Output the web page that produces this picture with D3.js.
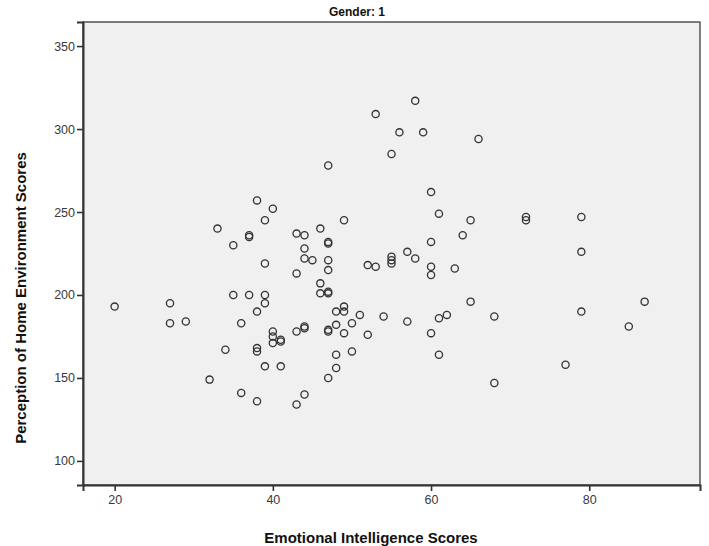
<!DOCTYPE html>
<html>
<head>
<meta charset="utf-8">
<script src="https://cdn.jsdelivr.net/npm/d3@7"></script>
<style>
  body { margin: 0; background: #fff; }
  svg { display: block; font-family: Arial, "Liberation Sans", sans-serif; }
</style>
</head>
<body>
<div id="chart"></div>
<script>
// Chart text
const chartTitle = "Gender: 1";
const xTitle = "Emotional Intelligence Scores";
const yTitle = "Perception of Home Environment Scores";

// Tick labels
const xTicks = [20, 40, 60, 80];
const yTicks = [100, 150, 200, 250, 300, 350];

// Emotional Intelligence score for each case
const eiScores = [
    20, 27, 27, 29, 32, 33, 34, 35, 35, 36, 36, 37, 37, 37,
    38, 38, 38, 38, 38, 39, 39, 39, 39, 39, 40, 40, 40, 40,
    41, 41, 41, 43, 43, 43, 43, 44, 44, 44, 44, 44, 44, 45,
    46, 46, 46, 47, 47, 47, 47, 47, 47, 47, 47, 47, 47,
    48, 48, 48, 48, 49, 49, 49, 49, 50, 50, 51, 52, 52,
    53, 53, 54, 55, 55, 55, 55, 56, 57, 57, 58, 58, 59,
    60, 60, 60, 60, 60, 61, 61, 61, 62, 63, 64, 65, 65,
    66, 68, 68, 72, 72, 77, 79, 79, 79, 85, 87
];

// Home Environment score for the same cases
const homeEnvScores = [
    193, 195, 183, 184, 149, 240, 167, 230, 200, 183, 141, 236, 235, 200,
    257, 190, 168, 166, 136, 245, 219, 200, 195, 157, 252, 178, 175, 171,
    173, 172, 157, 237, 213, 178, 134, 236, 228, 222, 181, 180, 140, 221,
    240, 207, 201, 278, 232, 231, 221, 215, 202, 201, 179, 178, 150,
    190, 182, 164, 156, 245, 193, 190, 177, 183, 166, 188, 218, 176,
    309, 217, 187, 285, 223, 221, 219, 298, 226, 184, 317, 222, 298,
    262, 232, 217, 212, 177, 249, 186, 164, 188, 216, 236, 245, 196,
    294, 187, 147, 247, 245, 158, 247, 226, 190, 181, 196
];

const points = eiScores.map((x, i) => ({ x, y: homeEnvScores[i] }));

// Dimensions set up
const W = 709, H = 546;
const margin = { top: 22, right: 9, bottom: 61, left: 83 };
const width = W - margin.left - margin.right;
const height = H - margin.top - margin.bottom;

const svg = d3.select("#chart")
    .append("svg")
    .attr("width", W)
    .attr("height", H);

const g = svg.append("g")
    .attr("transform", `translate(${margin.left}, ${margin.top})`);

// Scales
const x = d3.scaleLinear().domain([16, 94]).range([0, width]);
const y = d3.scaleLinear().domain([85.5, 364.5]).range([height, 0]);

// Plot background
g.append("rect")
    .attr("width", width)
    .attr("height", height)
    .attr("fill", "#f0f0f0")
    .attr("stroke", "#3c3c3c")
    .attr("stroke-width", 1.3);

// X axis
const xAxis = g.append("g")
    .attr("transform", `translate(0, ${height})`)
    .call(d3.axisBottom(x).tickValues(xTicks).tickSize(6).tickPadding(4));

// Y axis
const yAxis = g.append("g")
    .call(d3.axisLeft(y).tickValues(yTicks).tickSize(6).tickPadding(2));

[xAxis, yAxis].forEach(a => {
    a.select(".domain").attr("stroke", "#333").attr("stroke-width", 2);
    a.selectAll(".tick line").attr("stroke", "#333").attr("stroke-width", 1.6);
    a.selectAll(".tick text")
        .attr("fill", "#3a3a3a")
        .style("font-size", "12.5px")
        .style("font-family", "Arial, 'Liberation Sans', sans-serif");
});

// Scatter points
g.selectAll("circle.pt")
    .data(points)
    .join("circle")
    .attr("class", "pt")
    .attr("cx", d => x(d.x))
    .attr("cy", d => y(d.y))
    .attr("r", 3.6)
    .attr("fill", "none")
    .attr("stroke", "#333")
    .attr("stroke-width", 1.3);

// Title
svg.append("text")
    .attr("x", 357)
    .attr("y", 16)
    .attr("text-anchor", "middle")
    .style("font-size", "12px")
    .style("font-weight", "bold")
    .attr("fill", "#111")
    .text(chartTitle);

// X axis label
svg.append("text")
    .attr("x", 371)
    .attr("y", 543)
    .attr("text-anchor", "middle")
    .style("font-size", "15px")
    .style("font-weight", "bold")
    .attr("fill", "#111")
    .text(xTitle);

// Y axis label
svg.append("text")
    .attr("transform", "translate(26, 298) rotate(-90)")
    .attr("text-anchor", "middle")
    .style("font-size", "15px")
    .style("font-weight", "bold")
    .attr("fill", "#111")
    .text(yTitle);
</script>
</body>
</html>
